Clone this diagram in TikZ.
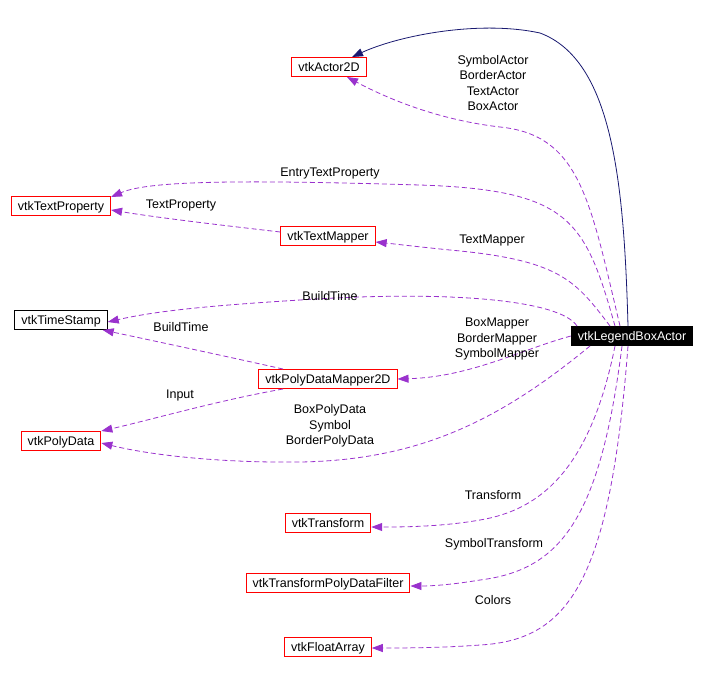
\documentclass[tikz,border=0pt]{standalone}
\usepackage{fontspec}
\setmainfont{Liberation Sans}
\usetikzlibrary{arrows.meta}
\definecolor{edgepurple}{HTML}{9A32CD}
\definecolor{edgenavy}{HTML}{191970}
\tikzset{
  cls/.style={draw=red, line width=1pt, fill=white, minimum height=19pt, inner xsep=6.5pt, inner ysep=0pt, text height=10pt, text depth=2pt, font=\fontsize{12.5}{14}\selectfont},
  plain/.style={cls, draw=black},
  main/.style={cls, draw=black, fill=black, text=white},
  uses/.style={draw=edgepurple, dashed, dash pattern=on 5pt off 3pt, line width=0.8pt, -{Triangle[length=11pt,width=8pt]}},
  inherit/.style={draw=edgenavy, line width=0.8pt, -{Triangle[length=11pt,width=8pt]}},
  lbl/.style={font=\fontsize{12.5}{15.5}\selectfont, align=center, inner sep=0pt}
}
\begin{document}
\begin{tikzpicture}[x=1pt,y=-1pt]
\useasboundingbox (0,0) rectangle (706,673);
\node[cls] (actor) at (329,67) {vtkActor2D};
\node[cls] (textprop) at (61,206) {vtkTextProperty};
\node[cls] (textmapper) at (328,236) {vtkTextMapper};
\node[plain] (timestamp) at (61,320) {vtkTimeStamp};
\node[main] (legend) at (632,336) {vtkLegendBoxActor};
\node[cls] (pdmapper) at (328,379) {vtkPolyDataMapper2D};
\node[cls] (polydata) at (61,441) {vtkPolyData};
\node[cls] (transform) at (328,523) {vtkTransform};
\node[cls] (tpdf) at (328,583) {vtkTransformPolyDataFilter};
\node[cls] (floatarray) at (328,647) {vtkFloatArray};

% inheritance
\draw[inherit] ([xshift=-4pt]legend.north) .. controls (624,180) and (612,60) .. (540,33) .. controls (480,20) and (400,35) .. ([xshift=23pt]actor.north);

% usage edges
\draw[uses] ([xshift=-12pt]legend.north) .. controls (590,200) and (580,135) .. (500,127) .. controls (440,120) and (390,100) .. ([xshift=18pt]actor.south);
\node[lbl] (l1) at (493,83) {SymbolActor\\BorderActor\\TextActor\\BoxActor};

\draw[uses] ([xshift=-17pt]legend.north) .. controls (585,220) and (570,190) .. (420,185) .. controls (250,180) and (150,180) .. ([yshift=-1pt]textprop.north east);
\node[lbl] (l2) at (330,173) {EntryTextProperty};

\draw[uses] ([yshift=4pt]textmapper.west) .. controls (220,225) and (160,218) .. ([yshift=-4pt]textprop.east);
\node[lbl] (l3) at (181,205) {TextProperty};

\draw[uses] ([xshift=-22pt]legend.north) .. controls (575,280) and (560,260) .. (450,250) .. controls (420,247) and (395,244) .. ([yshift=-6pt]textmapper.east);
\node[lbl] (l4) at (492,240) {TextMapper};

\draw[uses] ([xshift=-55pt]legend.north) .. controls (560,300) and (450,290) .. (300,300) .. controls (220,305) and (160,310) .. ([yshift=-2pt]timestamp.east);
\node[lbl] (l5) at (330,296) {BuildTime};

\draw[uses] ([xshift=-45pt]pdmapper.north) .. controls (220,355) and (150,340) .. ([xshift=-5pt]timestamp.south east);
\node[lbl] (l6) at (181,327) {BuildTime};

\draw[uses] (legend.west) .. controls (520,350) and (470,377) .. (pdmapper.east);
\node[lbl] (l7) at (497,339) {BoxMapper\\BorderMapper\\SymbolMapper};

\draw[uses] ([xshift=-45pt]pdmapper.south) .. controls (220,400) and (150,420) .. (polydata.north east);
\node[lbl] (l8) at (180,395) {Input};

\draw[uses] ([xshift=-42pt]legend.south) .. controls (500,420) and (420,460) .. (300,462) .. controls (220,463) and (150,455) .. ([yshift=-2pt]polydata.east);
\node[lbl] (l9) at (330,426) {BoxPolyData\\Symbol\\BorderPolyData};

\draw[uses] ([xshift=-17pt]legend.south) .. controls (590,470) and (540,510) .. (480,520) .. controls (440,527) and (400,527) .. ([yshift=-4pt]transform.east);
\node[lbl] (l10) at (493,495) {Transform};

\draw[uses] ([xshift=-10pt]legend.south) .. controls (600,520) and (560,570) .. (480,580) .. controls (450,585) and (430,586) .. ([yshift=-3pt]tpdf.east);
\node[lbl] (l11) at (494,544) {SymbolTransform};

\draw[uses] ([xshift=-4pt]legend.south) .. controls (610,580) and (570,640) .. (480,645) .. controls (440,648) and (400,648) .. ([yshift=-1pt]floatarray.east);
\node[lbl] (l12) at (493,600) {Colors};
\end{tikzpicture}
\end{document}
